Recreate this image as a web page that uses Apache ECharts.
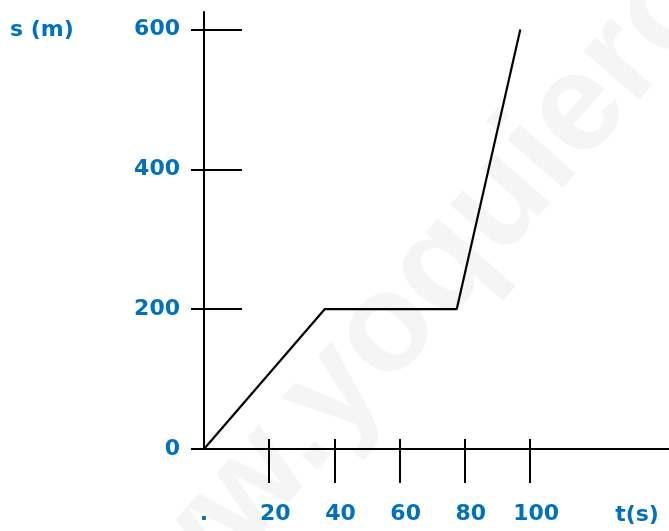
<!DOCTYPE html>
<html>
<head>
<meta charset="utf-8">
<script src="https://cdn.jsdelivr.net/npm/echarts@6/dist/echarts.min.js"></script>
<style>html,body{margin:0;padding:0;background:#fff;}#c{width:669px;height:531px;}</style>
</head>
<body>
<div id="c"></div>
<script>
// data
const timeValues = [0, 37, 77.5, 97];        // t (s)
const distanceValues = [0, 200, 200, 600];   // s (m)
const xTickValues = [20, 40, 60, 80, 100];
const xLabelValues = [0, 20, 40, 60, 80, 100];
const yTickValues = [0, 200, 400, 600];
const yInnerTickValues = [200, 400, 600];
const xAxisTitle = 't(s)';
const yAxisTitle = 's (m)';
const watermark = 'www.yoquieroaprobar.es';

const BLUE = '#0070C0';
const FONT = '"DejaVu Sans", sans-serif';
const FS = 22;

const seriesData = timeValues.map((t, i) => [t, distanceValues[i]]);

const chart = echarts.init(document.getElementById('c'), null, {renderer: 'canvas'});
const lbl = {color: BLUE, fontFamily: FONT, fontSize: FS, fontWeight: 'bold'};

chart.setOption({
  animation: false,
  backgroundColor: '#fff',
  grid: {left: 204, right: 0, top: 12, bottom: 82, containLabel: false},
  graphic: [
    {type: 'text', z: -10, x: 124, y: 740, rotation: 0.855,
     style: {text: watermark, fill: '#f5f5f5', font: 'bold 140px "Liberation Sans", sans-serif', textAlign: 'left', textVerticalAlign: 'bottom'}},
    {type: 'text', left: 10, top: 19,
     style: {text: yAxisTitle, fill: BLUE, font: 'bold ' + FS + 'px ' + FONT}},
    {type: 'text', x: 637, y: 515,
     style: {text: xAxisTitle, fill: BLUE, font: 'bold ' + FS + 'px ' + FONT, textAlign: 'center', textVerticalAlign: 'middle'}}
  ],
  xAxis: [
    {type: 'value', min: 0, max: 142.6, position: 'bottom',
     axisLine: {show: true, onZero: false, lineStyle: {color: '#000', width: 2}},
     axisTick: {show: true, inside: false, length: 34, customValues: xTickValues, lineStyle: {color: '#000', width: 2}},
     axisLabel: {show: true, customValues: xLabelValues, margin: 54, lineHeight: 22,
       formatter: v => v === 0 ? '{d|.}' : '{n|' + v + '}',
       rich: {
         n: Object.assign({padding: [0, 0, 0, 12], lineHeight: 22}, lbl),
         d: Object.assign({lineHeight: 22}, lbl)
       }, ...lbl},
     splitLine: {show: false}},
    {type: 'value', min: 0, max: 142.6, position: 'bottom',
     axisLine: {show: false},
     axisTick: {show: true, inside: true, length: 10, customValues: xTickValues, lineStyle: {color: '#000', width: 2}},
     axisLabel: {show: false},
     splitLine: {show: false}}
  ],
  yAxis: [
    {type: 'value', min: 0, max: 625, position: 'left',
     axisLine: {show: true, onZero: false, lineStyle: {color: '#000', width: 2}},
     axisTick: {show: true, inside: false, length: 13, customValues: yTickValues, lineStyle: {color: '#000', width: 2}},
     axisLabel: {show: true, customValues: yTickValues, margin: 24, ...lbl},
     splitLine: {show: false}},
    {type: 'value', min: 0, max: 625, position: 'left',
     axisLine: {show: false},
     axisTick: {show: true, inside: true, length: 38, customValues: yInnerTickValues, lineStyle: {color: '#000', width: 2}},
     axisLabel: {show: false},
     splitLine: {show: false}}
  ],
  series: [{
    type: 'line', xAxisIndex: 0, yAxisIndex: 0,
    data: seriesData, symbol: 'none',
    lineStyle: {color: '#000', width: 2.2},
    z: 5
  }]
});
</script>
</body>
</html>
